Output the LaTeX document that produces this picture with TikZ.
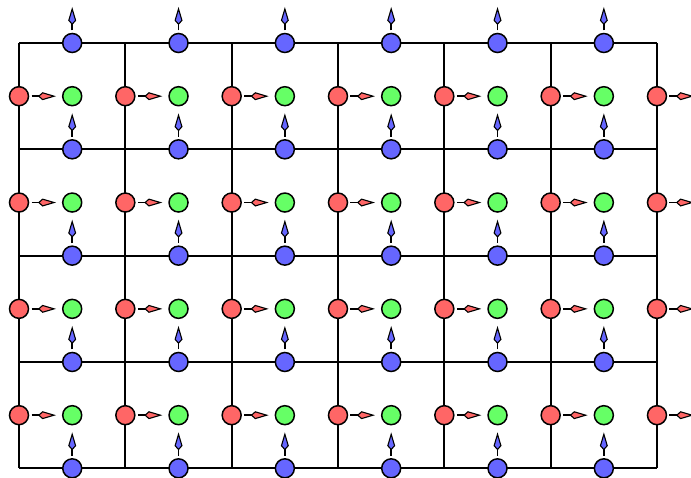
\documentclass[tikz,border=0pt]{standalone}
\usetikzlibrary{arrows.meta}
\definecolor{sitered}{RGB}{255,102,102}
\definecolor{sitegreen}{RGB}{102,255,102}
\definecolor{siteblue}{RGB}{102,102,255}

\begin{document}
\begin{tikzpicture}[x=1pt,y=-1pt,
  site/.style={circle,draw=black,line width=1.5pt,minimum size=19pt,inner sep=0pt,outer sep=0pt},
  redsite/.style={site,fill=sitered},
  greensite/.style={site,fill=sitegreen},
  bluesite/.style={site,fill=siteblue},
  quiver/.style={line width=1.6pt,shorten <=3pt,
    -{Kite[length=18pt,width=8pt,inset=4.5pt,line width=1.1pt,fill=#1]}},
  gridline/.style={line width=2pt,color=black}]

\useasboundingbox (0,0) rectangle (691,478);

% Grid
\foreach \i in {0,...,6}{
  \pgfmathsetmacro\xx{19+106.33*\i}
  \draw [gridline] (\xx,43) -- (\xx,468.3);
}
\foreach \j in {0,...,4}{
  \pgfmathsetmacro\yy{43+106.33*\j}
  \draw [gridline] (19,\yy) -- (657,\yy);
}

% Sites on the vertical edges
\foreach \i in {0,...,6}{
  \foreach \j in {0,...,3}{
    \pgfmathsetmacro\xx{19+106.33*\i}
    \pgfmathsetmacro\yy{96.2+106.33*\j}
    \node [redsite] (r\i\j) at (\xx,\yy) {};
    \coordinate (rt\i\j) at ([xshift=37pt]r\i\j.center);
    \draw [quiver=sitered] (r\i\j) -- (rt\i\j);
  }
}

% Sites in the cells and on the horizontal edges
\foreach \i in {0,...,5}{
  \pgfmathsetmacro\xx{72.2+106.33*\i}
  \foreach \j in {0,...,3}{
    \pgfmathsetmacro\yy{96.2+106.33*\j}
    \node [greensite] (g\i\j) at (\xx,\yy) {};
  }
  \foreach \j in {0,...,4}{
    \pgfmathsetmacro\yy{43+106.33*\j}
    \node [bluesite] (b\i\j) at (\xx,\yy) {};
    \coordinate (bt\i\j) at ([yshift=36pt]b\i\j.center);
    \draw [quiver=siteblue] (b\i\j) -- (bt\i\j);
  }
}

\end{tikzpicture}
\end{document}
